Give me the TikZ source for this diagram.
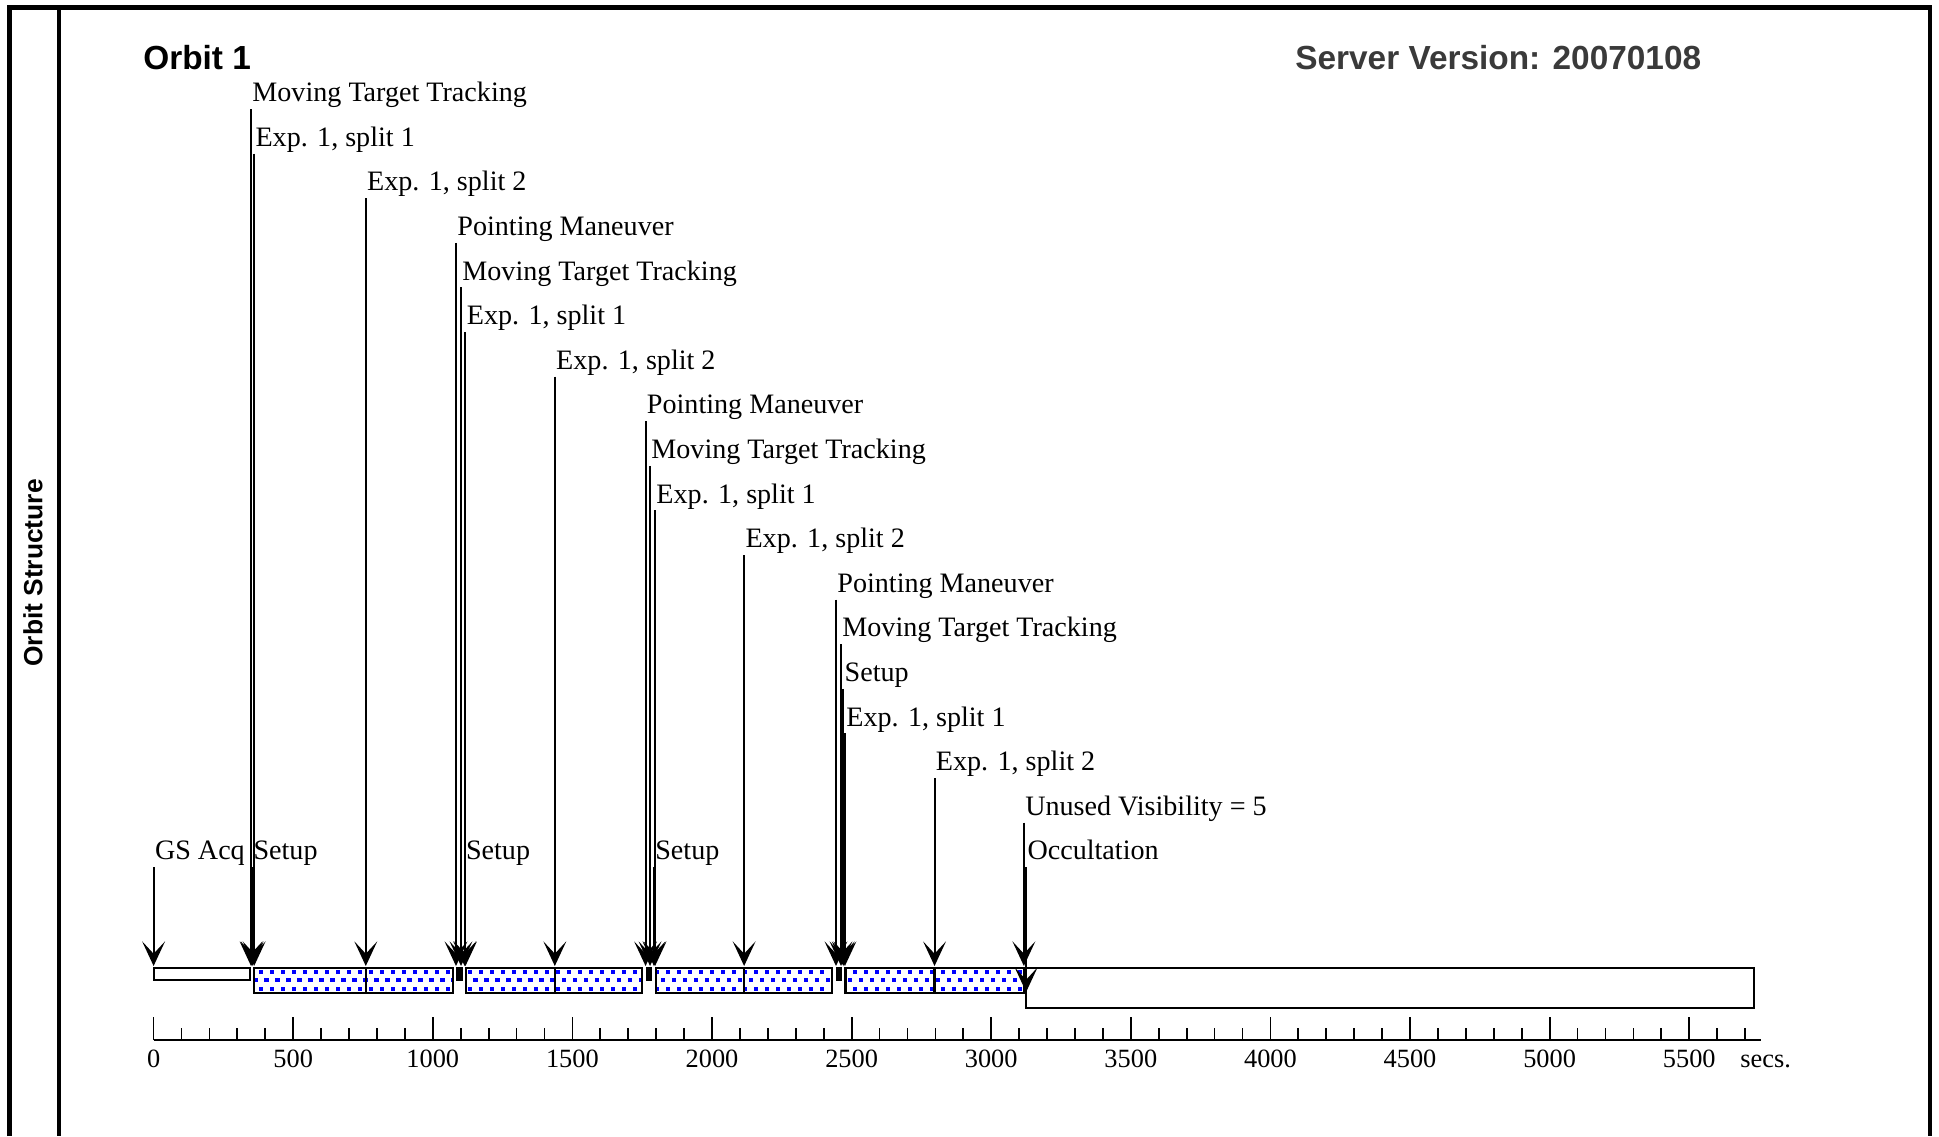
\documentclass[tikz,border=0pt]{standalone}
\usepackage{fontspec}
\setmainfont{Liberation Serif}
\setsansfont{Liberation Sans}
\usepackage{tikz}
\usetikzlibrary{arrows.meta}
\definecolor{dotblue}{HTML}{0000FF}
\definecolor{titlegray}{HTML}{3A3A3A}
\tikzset{
    every picture/.style={line join=miter},
    frameline/.style={draw=black,line width=2.8pt},
    barbox/.style={draw=black,line width=1.2pt},
    axisline/.style={draw=black,line width=1pt},
    evlabel/.style={anchor=base west,inner xsep=0.6pt,inner ysep=0pt,
      font=\fontsize{16}{18}\selectfont},
    evarrow/.style={-{Stealth[length=14pt,width=13pt,inset=7pt]},draw=black,
      line width=1.15pt},
    ticklabel/.style={anchor=base,inner sep=0pt,font=\fontsize{15}{17}\selectfont},
    titletext/.style={anchor=west,inner sep=0pt,
      font=\sffamily\bfseries\fontsize{19}{22}\selectfont}
}
\begin{document}
\begin{tikzpicture}[x=0.02cm,y=-0.02cm]
  \useasboundingbox (0,0) rectangle (1939,1136);
  % frame and side title
  \draw[frameline] (9.5,1136) -- (9.5,7.5) -- (1930,7.5) -- (1930,1136);
  \draw[line width=2.3pt] (59,10) -- (59,1136);
  \node[rotate=90,font=\sffamily\bfseries\fontsize{15}{17}\selectfont] (side) at (33,573) {Orbit Structure};
  \node[titletext] (orbit) at (143,58) {Orbit 1};
  \node[titletext,text=titlegray] (server) at (1295,58) {Server Version: 20070108};

  % everything below is in seconds along x
  \begin{scope}[shift={(153.6,0)},xscale=0.2792]
    % plain bars: acquisition, occultation
    \foreach \a/\b/\h in {0/344/980,3125/5732/1008}
      \draw[barbox,fill=white] (\a,968) rectangle (\b,\h);
    % maneuvers
    \foreach \a/\b in {1087/1103,1767/1782,2448/2463}
      \draw[barbox,fill=black] (\a,968) rectangle (\b,980);
    % dotted exposure bars
    \begin{scope}
      \clip (360,968) rectangle (1073,993) (1119,968) rectangle (1749,993)
            (1800,968) rectangle (2430,993) (2478,968) rectangle (3117,993);
      \foreach \r in {0,1,2}
        \foreach \s in {0,...,72}
          \fill[dotblue] ({338+39.4*\s+19.7*mod(\r,2)},{969.5+8.5*\r}) rectangle +(15.5,4.3);
    \end{scope}
    \foreach \a/\b in {360/760,760/1073,1119/1437,1437/1749,1800/2115,2115/2430,2478/2797,2797/3117}
      \draw[barbox] (\a,968) rectangle (\b,993);

    % events
    \foreach \t/\k/\e/\txt [count=\i] in {
        0/17/966/GS Acq,
        349/0/966/Moving Target Tracking,
        353/17/966/Setup,
        360/1/966/{Exp. 1, split 1},
        760/2/966/{Exp. 1, split 2},
        1083/3/966/Pointing Maneuver,
        1101/4/966/Moving Target Tracking,
        1114/17/966/Setup,
        1117/5/966/{Exp. 1, split 1},
        1437/6/966/{Exp. 1, split 2},
        1762/7/966/Pointing Maneuver,
        1778/8/966/Moving Target Tracking,
        1792/17/966/Setup,
        1796/9/966/{Exp. 1, split 1},
        2115/10/966/{Exp. 1, split 2},
        2444/11/966/Pointing Maneuver,
        2462/12/966/Moving Target Tracking,
        2470/13/966/Setup,
        2476/14/966/{Exp. 1, split 1},
        2797/15/966/{Exp. 1, split 2},
        3117/16/966/Unused Visibility = 5,
        3125/17/992/Occultation}{
      \node[evlabel] (ev\i) at (\t,{101.7+44.6*\k}) {\txt};
      \coordinate (top\i) at (\t,{109+44.6*\k});
      \coordinate (tip\i) at (\t,\e);
    }

    % time axis
    \draw[axisline] (0,1040) -- (5757,1040);
    \foreach \s in {0,100,...,5700}
      \draw[axisline] (\s,1040) -- (\s,1028);
    \foreach \s in {0,500,...,5500}{
      \draw[axisline] (\s,1040) -- (\s,1017);
      \node[ticklabel] (n\s) at (\s,1067) {\s};
    }
    \node[ticklabel,anchor=base west] (unit) at (5682,1067) {secs.};
  \end{scope}

  % arrows drawn unscaled
  \foreach \i in {1,...,22}
    \draw[evarrow] (top\i) -- (tip\i);
\end{tikzpicture}
\end{document}
